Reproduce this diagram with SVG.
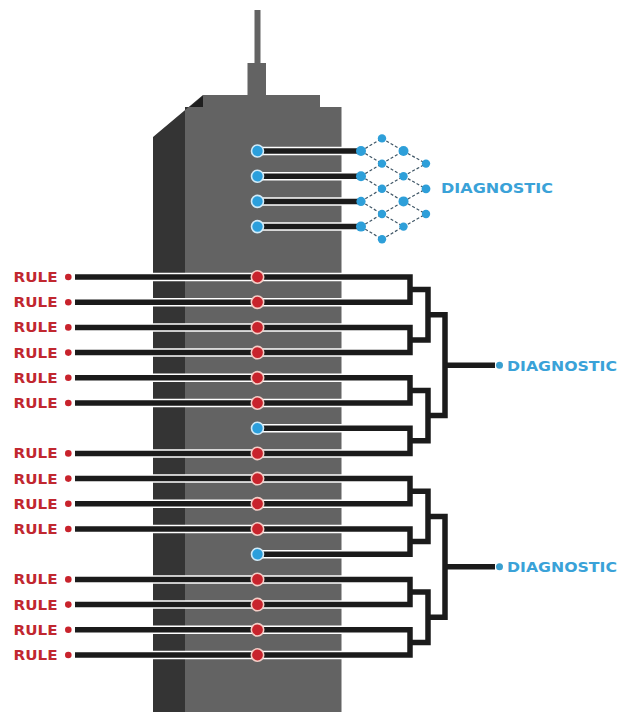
<svg xmlns="http://www.w3.org/2000/svg" xmlns:xlink="http://www.w3.org/1999/xlink" width="621" height="712" viewBox="0 0 621 712">
  <style>
    .front { fill: #636363; }
    .side { fill: #343434; }
    .corner { fill: #1f1f1f; }
    .halo { fill: none; stroke: #ffffff; stroke-width: 8.5; stroke-linejoin: miter; }
    .wire { fill: none; stroke: #1b1b1b; stroke-width: 5.5; stroke-linejoin: miter; }
    .mesh { stroke: #3f5666; stroke-width: 1.2; stroke-dasharray: 3 2; fill: none; }
    .red { fill: #c8232c; stroke: #f4cdc6; stroke-width: 1.6; }
    .blue { fill: #2b9fdc; stroke: #d2ebf8; stroke-width: 1.6; }
    .node { fill: #2e9fd9; }
    .tip-red { fill: #c8232c; }
    .tip-blue { fill: #3a9fcf; }
    .rule { font-family: "DejaVu Sans", "Liberation Sans", sans-serif; font-weight: bold; font-size: 14px; fill: #c1272f; }
    .diag { font-family: "DejaVu Sans", "Liberation Sans", sans-serif; font-weight: bold; font-size: 13.5px; fill: #3aa2d8; }
  </style>

  <defs>
    <!-- every wire path; drawn twice: white halo below, black wire above -->
    <g id="wirePaths">
      <!-- hub lines into the mesh -->
      <path d="M257.5 151 H361"/>
      <path d="M257.5 176.2 H361"/>
      <path d="M257.5 201.4 H361"/>
      <path d="M257.5 226.6 H361"/>
      <!-- upper tree -->
      <path d="M75 277 H410 V302.2 H75"/>
      <path d="M75 327.4 H410 V352.6 H75"/>
      <path d="M410 289.6 H428 V340 H410"/>
      <path d="M75 377.8 H410 V403 H75"/>
      <path d="M257.5 428.2 H410 V453.4 H75"/>
      <path d="M410 390.4 H428 V440.8 H410"/>
      <path d="M428 314.8 H445 V415.6 H428"/>
      <path d="M445 365.2 H495"/>
      <!-- lower tree -->
      <path d="M75 478.6 H410 V503.8 H75"/>
      <path d="M75 529 H410 V554.2 H257.5"/>
      <path d="M410 491.2 H428 V541.6 H410"/>
      <path d="M75 579.4 H410 V604.6 H75"/>
      <path d="M75 629.8 H410 V655 H75"/>
      <path d="M410 592 H428 V642.4 H410"/>
      <path d="M428 516.4 H445 V617.2 H428"/>
      <path d="M445 566.8 H495"/>
    </g>
  </defs>

  <!-- tower -->
  <g id="tower">
    <rect class="front" x="254.5" y="10" width="6" height="54"/>
    <rect class="front" x="247.5" y="63" width="18.5" height="33"/>
    <rect class="front" x="203" y="95" width="117" height="13"/>
    <rect class="front" x="185" y="107" width="156.5" height="605"/>
    <polygon class="side" points="153,137 203,95 203,107 185,107 185,712 153,712"/>
    <polygon class="corner" points="190,107 203,96 203,107"/>
  </g>

  <!-- connectors -->
  <g id="connectors">
    <use xlink:href="#wirePaths" class="halo"/>
    <use xlink:href="#wirePaths" class="wire"/>
  </g>

  <!-- lattice of diagnostic nodes -->
  <g id="mesh">
    <g class="mesh">
      <path d="M361 151 L382 138.4 M361 151 L382 163.6
               M361 176.2 L382 163.6 M361 176.2 L382 188.8
               M361 201.4 L382 188.8 M361 201.4 L382 214
               M361 226.6 L382 214 M361 226.6 L382 239.2"/>
      <path d="M382 138.4 L403.5 151 M382 163.6 L403.5 151 M382 163.6 L403.5 176.2
               M382 188.8 L403.5 176.2 M382 188.8 L403.5 201.4
               M382 214 L403.5 201.4 M382 214 L403.5 226.6 M382 239.2 L403.5 226.6"/>
      <path d="M403.5 151 L426 163.6 M403.5 176.2 L426 163.6 M403.5 176.2 L426 188.8
               M403.5 201.4 L426 188.8 M403.5 201.4 L426 214 M403.5 226.6 L426 214"/>
    </g>
    <g class="node">
      <circle cx="361" cy="151" r="5"/>
      <circle cx="361" cy="176.2" r="5"/>
      <circle cx="361" cy="201.4" r="4.6"/>
      <circle cx="361" cy="226.6" r="5"/>
      <circle cx="382" cy="138.4" r="4.2"/>
      <circle cx="382" cy="163.6" r="4.2"/>
      <circle cx="382" cy="188.8" r="4.2"/>
      <circle cx="382" cy="214" r="4.2"/>
      <circle cx="382" cy="239.2" r="4.2"/>
      <circle cx="403.5" cy="151" r="5"/>
      <circle cx="403.5" cy="176.2" r="4.2"/>
      <circle cx="403.5" cy="201.4" r="5"/>
      <circle cx="403.5" cy="226.6" r="4.2"/>
      <circle cx="426" cy="163.6" r="4.2"/>
      <circle cx="426" cy="188.8" r="4.4"/>
      <circle cx="426" cy="214" r="4.2"/>
    </g>
  </g>

  <!-- diagnostic outputs -->
  <g id="diag-mesh">
    <text class="diag" x="441" y="192.5" textLength="112" lengthAdjust="spacingAndGlyphs">DIAGNOSTIC</text>
  </g>
  <g id="diag-upper">
    <circle class="tip-blue" cx="499.5" cy="365.2" r="3.5"/>
    <text class="diag" x="507" y="370.5" textLength="110" lengthAdjust="spacingAndGlyphs">DIAGNOSTIC</text>
  </g>
  <g id="diag-lower">
    <circle class="tip-blue" cx="499.5" cy="566.8" r="3.5"/>
    <text class="diag" x="507" y="572" textLength="110" lengthAdjust="spacingAndGlyphs">DIAGNOSTIC</text>
  </g>

  <!-- hub dots on the tower -->
  <g id="hub-top">
    <circle class="blue" cx="257.5" cy="151" r="6"/>
    <circle class="blue" cx="257.5" cy="176.2" r="6"/>
    <circle class="blue" cx="257.5" cy="201.4" r="6"/>
    <circle class="blue" cx="257.5" cy="226.6" r="6"/>
  </g>
  <g id="hub-diag">
    <circle class="blue" cx="257.5" cy="428.2" r="6"/>
    <circle class="blue" cx="257.5" cy="554.2" r="6"/>
  </g>

  <!-- rules -->
  <g id="rule-1"><text class="rule" x="13.5" y="282" textLength="44" lengthAdjust="spacingAndGlyphs">RULE</text><circle class="tip-red" cx="68.3" cy="277" r="3.3"/><circle class="red" cx="257.5" cy="277" r="6.2"/></g>
  <g id="rule-2"><text class="rule" x="13.5" y="307.2" textLength="44" lengthAdjust="spacingAndGlyphs">RULE</text><circle class="tip-red" cx="68.3" cy="302.2" r="3.3"/><circle class="red" cx="257.5" cy="302.2" r="6.2"/></g>
  <g id="rule-3"><text class="rule" x="13.5" y="332.4" textLength="44" lengthAdjust="spacingAndGlyphs">RULE</text><circle class="tip-red" cx="68.3" cy="327.4" r="3.3"/><circle class="red" cx="257.5" cy="327.4" r="6.2"/></g>
  <g id="rule-4"><text class="rule" x="13.5" y="357.6" textLength="44" lengthAdjust="spacingAndGlyphs">RULE</text><circle class="tip-red" cx="68.3" cy="352.6" r="3.3"/><circle class="red" cx="257.5" cy="352.6" r="6.2"/></g>
  <g id="rule-5"><text class="rule" x="13.5" y="382.8" textLength="44" lengthAdjust="spacingAndGlyphs">RULE</text><circle class="tip-red" cx="68.3" cy="377.8" r="3.3"/><circle class="red" cx="257.5" cy="377.8" r="6.2"/></g>
  <g id="rule-6"><text class="rule" x="13.5" y="408" textLength="44" lengthAdjust="spacingAndGlyphs">RULE</text><circle class="tip-red" cx="68.3" cy="403" r="3.3"/><circle class="red" cx="257.5" cy="403" r="6.2"/></g>
  <g id="rule-7"><text class="rule" x="13.5" y="458.4" textLength="44" lengthAdjust="spacingAndGlyphs">RULE</text><circle class="tip-red" cx="68.3" cy="453.4" r="3.3"/><circle class="red" cx="257.5" cy="453.4" r="6.2"/></g>
  <g id="rule-8"><text class="rule" x="13.5" y="483.6" textLength="44" lengthAdjust="spacingAndGlyphs">RULE</text><circle class="tip-red" cx="68.3" cy="478.6" r="3.3"/><circle class="red" cx="257.5" cy="478.6" r="6.2"/></g>
  <g id="rule-9"><text class="rule" x="13.5" y="508.8" textLength="44" lengthAdjust="spacingAndGlyphs">RULE</text><circle class="tip-red" cx="68.3" cy="503.8" r="3.3"/><circle class="red" cx="257.5" cy="503.8" r="6.2"/></g>
  <g id="rule-10"><text class="rule" x="13.5" y="534" textLength="44" lengthAdjust="spacingAndGlyphs">RULE</text><circle class="tip-red" cx="68.3" cy="529" r="3.3"/><circle class="red" cx="257.5" cy="529" r="6.2"/></g>
  <g id="rule-11"><text class="rule" x="13.5" y="584.4" textLength="44" lengthAdjust="spacingAndGlyphs">RULE</text><circle class="tip-red" cx="68.3" cy="579.4" r="3.3"/><circle class="red" cx="257.5" cy="579.4" r="6.2"/></g>
  <g id="rule-12"><text class="rule" x="13.5" y="609.6" textLength="44" lengthAdjust="spacingAndGlyphs">RULE</text><circle class="tip-red" cx="68.3" cy="604.6" r="3.3"/><circle class="red" cx="257.5" cy="604.6" r="6.2"/></g>
  <g id="rule-13"><text class="rule" x="13.5" y="634.8" textLength="44" lengthAdjust="spacingAndGlyphs">RULE</text><circle class="tip-red" cx="68.3" cy="629.8" r="3.3"/><circle class="red" cx="257.5" cy="629.8" r="6.2"/></g>
  <g id="rule-14"><text class="rule" x="13.5" y="660" textLength="44" lengthAdjust="spacingAndGlyphs">RULE</text><circle class="tip-red" cx="68.3" cy="655" r="3.3"/><circle class="red" cx="257.5" cy="655" r="6.2"/></g>
</svg>
